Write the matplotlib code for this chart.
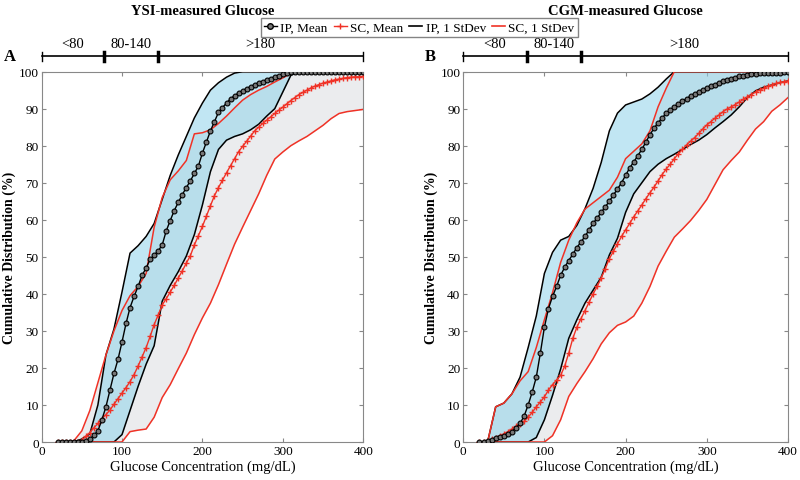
import numpy as np
import matplotlib
matplotlib.use("Agg")
import matplotlib.pyplot as plt
from matplotlib.lines import Line2D
import matplotlib.transforms as mtransforms

plt.rcParams['font.family'] = ['Liberation Serif', 'DejaVu Serif']
plt.rcParams['font.size'] = 10

# glucose grid (mg/dL): bands read every 10, means every 5
glucose_band = np.arange(20, 401, 10)
glucose_mean = np.arange(20, 401, 5)

# ---- panel A: YSI-measured glucose ----
ysi_ip_hi = [0, 0, 0, 0.8, 2.2, 10, 23.5, 30.5,
             40.5, 51, 53, 55.5, 59, 65.5, 72, 77.5,
             82.5, 87.5, 91.5, 95, 97, 98.5, 99.6, 100,
             100, 100, 100, 100, 100, 100, 100, 100,
             100, 100, 100, 100, 100, 100, 100]
ysi_ip_lo = [0, 0, 0, 0, 0, 0, 0, 0,
             2, 8.5, 15, 21, 26, 38, 42.3, 46,
             50.2, 56, 64, 73, 79, 81.5, 82.5, 83.2,
             84.3, 85.8, 88, 90, 94.5, 99, 100, 100,
             100, 100, 100, 100, 100, 100, 100]
ysi_sc_hi = [0, 0, 0.3, 3, 8.5, 16, 23.5, 30,
             35.5, 39.5, 42, 45.5, 58, 66, 70.8, 73.2,
             76, 83.2, 83.5, 84.3, 86, 88, 90.2, 92.3,
             93.8, 95, 96, 97.2, 98.3, 99.5, 100, 100,
             100, 100, 100, 100, 100, 100, 100]
ysi_sc_lo = [0, 0, 0, 0, 0, 0, 0, 0,
             0, 2.8, 3.2, 3.5, 6.7, 12, 15.5, 19.8,
             24, 29, 33.5, 37.5, 42.5, 48, 53.4, 58,
             62.5, 67, 72, 76.4, 78.3, 80, 81.3, 82.5,
             84, 85.5, 87.3, 88.7, 89.2, 89.5, 89.8]
ysi_ip_mean = [0, 0, 0, 0, 0, 0, 0.1, 0.4,
               0.8, 1.8, 3, 6, 9.5, 14, 18.5, 22.3,
               27, 32, 36.3, 39.3, 42, 45, 47, 49.3,
               50.4, 51.6, 53.2, 57, 59.8, 62.5, 64.7, 66.8,
               68.7, 70.5, 72.5, 74.5, 78, 81, 84, 86.5,
               89, 90.3, 91.5, 92.7, 93.5, 94.2, 94.8, 95.4,
               95.9, 96.4, 96.9, 97.3, 97.7, 98.1, 98.5, 98.9,
               99.3, 99.6, 99.9, 100, 100, 100, 100, 100,
               100, 100, 100, 100, 100, 100, 100, 100,
               100, 100, 100, 100, 100]
ysi_sc_mean = [0, 0, 0, 0, 0, 0, 0.5, 1.5,
               2.5, 3.8, 5, 6.2, 7.4, 8.6, 10.2, 11.7,
               13.2, 14.7, 16.3, 18.2, 20.5, 23, 25.5, 28.5,
               31.7, 34.3, 37, 38.7, 40.5, 42.3, 44.3, 46.2,
               48.3, 50.3, 53.2, 55.7, 58.2, 61, 63.8, 66.5,
               68.7, 70.7, 72.7, 74.6, 76.5, 78.4, 79.8, 81.2,
               82.6, 84, 85, 86, 86.9, 87.8, 88.7, 89.6,
               90.4, 91.3, 92.2, 93, 93.8, 94.4, 95, 95.6,
               96.1, 96.5, 96.9, 97.2, 97.5, 97.8, 98, 98.2,
               98.4, 98.5, 98.6, 98.6, 98.7]

# ---- panel B: CGM-measured glucose ----
cgm_ip_hi = [0, 0, 9.5, 10.5, 13, 17.5, 25.5, 34,
             45.5, 51.2, 54.5, 55.5, 58.5, 63, 68.5, 75.5,
             84, 88.8, 91, 91.8, 92.6, 94, 95.8, 98,
             100, 100, 100, 100, 100, 100, 100, 100,
             100, 100, 100, 100, 100, 100, 100]
cgm_ip_lo = [0, 0, 0, 0, 0, 0, 0, 1.2,
             6, 12.6, 19.7, 28, 33, 37.5, 41, 44.5,
             50.5, 55, 62, 67, 70, 73, 75, 76.5,
             77.7, 79, 80.3, 81.5, 83, 84.8, 86.5, 88.3,
             90.5, 93, 94.8, 95.8, 96.4, 97, 97.5]
cgm_sc_hi = [0, 0, 9.5, 10.5, 13, 16.5, 19, 25.5,
             33, 40.3, 48.5, 54.5, 59.2, 62.9, 64.6, 66.3,
             68, 71.5, 76.5, 78.5, 80.5, 84, 90.5, 95.5,
             100, 100, 100, 100, 100, 100, 100, 100,
             100, 100, 100, 100, 100, 100, 100]
cgm_sc_lo = [0, 0, 0, 0, 0, 0, 0, 0,
             0, 1.7, 6, 12.3, 15.8, 19, 22.5, 26.5,
             29.5, 31.5, 32.4, 34, 37.5, 42, 47.5, 51.5,
             55.3, 57.5, 59.8, 62.5, 65.5, 69.5, 73.5, 76,
             78.3, 81.5, 84.5, 86.5, 89.3, 91, 93]
cgm_ip_mean = [0, 0, 0.3, 0.6, 1, 1.3, 1.7, 2.2,
               2.8, 3.8, 5, 7, 10, 13.5, 17.5, 24,
               31, 36, 39.3, 42, 45, 47.2, 49, 50.7,
               52.5, 54, 55.5, 57.3, 59, 60.5, 62, 63.5,
               65, 66.7, 68.3, 70, 72, 74, 75.6, 77.3,
               79, 81, 83, 84.7, 86.2, 87.5, 88.7, 89.6,
               90.5, 91.3, 92, 92.7, 93.4, 94, 94.5, 95,
               95.5, 96, 96.5, 97, 97.4, 97.8, 98.1, 98.4,
               98.7, 98.9, 99.1, 99.3, 99.4, 99.5, 99.6, 99.6,
               99.7, 99.7, 99.7, 99.8, 99.8]
cgm_sc_mean = [0, 0, 0.3, 0.7, 1.2, 1.7, 2.2, 2.8,
               3.5, 4.2, 4.9, 5.6, 6.7, 8, 9.5, 10.8,
               12.2, 14, 15.5, 16.7, 18, 20.5, 24, 28,
               31, 33.3, 35.5, 37.7, 40, 42, 44.3, 46.8,
               49.5, 51.5, 53.5, 55.5, 57.3, 59, 60.8, 62.4,
               64, 65.7, 67.3, 68.8, 70.5, 72.2, 73.7, 75,
               76.5, 77.8, 79, 80.2, 81.2, 82.2, 83.3, 84.5,
               85.6, 86.5, 87.4, 88.3, 89.2, 89.9, 90.5, 91.1,
               91.8, 92.5, 93.2, 93.8, 94.5, 95, 95.5, 96,
               96.4, 96.8, 97.1, 97.3, 97.5]

# glycemic ranges drawn above each panel
range_edges = [0, 78, 145, 400]
range_labels = ["<80", "80-140", ">180"]

titles = ["YSI-measured Glucose", "CGM-measured Glucose"]
letters = ["A", "B"]

RED = "#f03226"
IP_FILL = "#8fd3ea"
SC_FILL = "#ebecee"

fig = plt.figure(figsize=(8, 4.81), dpi=100)
ax_a = fig.add_axes([0.052, 0.079, 0.402, 0.770])
ax_b = fig.add_axes([0.579, 0.079, 0.406, 0.770])

panels = [
    (ax_a, ysi_ip_hi, ysi_ip_lo, ysi_sc_hi, ysi_sc_lo, ysi_ip_mean, ysi_sc_mean),
    (ax_b, cgm_ip_hi, cgm_ip_lo, cgm_sc_hi, cgm_sc_lo, cgm_ip_mean, cgm_sc_mean),
]

for i, (ax, ip_hi, ip_lo, sc_hi, sc_lo, ip_mean, sc_mean) in enumerate(panels):
    ax.fill_between(glucose_band, sc_lo, sc_hi, color=SC_FILL, lw=0, zorder=1)
    ax.fill_between(glucose_band, ip_lo, ip_hi, color=IP_FILL, alpha=0.55, lw=0, zorder=2)
    ax.plot(glucose_band, ip_hi, color="black", lw=1.1, zorder=3)
    ax.plot(glucose_band, ip_lo, color="black", lw=1.1, zorder=3)
    ax.plot(glucose_band, sc_hi, color=RED, lw=1.1, zorder=4)
    ax.plot(glucose_band, sc_lo, color=RED, lw=1.1, zorder=4)
    ax.plot(glucose_mean, ip_mean, color="black", lw=1, marker="o", ms=3.5,
            mfc="#777777", mec="black", mew=0.8, zorder=6)
    ax.plot(glucose_mean, sc_mean, color=RED, lw=1, marker="+", ms=4.5,
            mew=1, zorder=5)

    ax.set_xlim(0, 400)
    ax.set_ylim(0, 100)
    ax.set_xticks([0, 100, 200, 300, 400])
    ax.set_yticks(np.arange(0, 101, 10))
    ax.tick_params(direction="in", top=True, right=True, length=3, pad=2,
                   color="#888888", labelsize=9.5)
    for s in ax.spines.values():
        s.set_color("#888888")
    ax.set_xlabel("Glucose Concentration (mg/dL)", fontsize=10.5, labelpad=2)
    ax.set_ylabel("Cumulative Distribution (%)", fontsize=10, fontweight="bold", labelpad=2)

    # range bracket above the axes
    trans = mtransforms.blended_transform_factory(ax.transData, ax.transAxes)
    yb = 1.042
    ax.plot([0, 400], [yb, yb], color="black", lw=1.2, transform=trans, clip_on=False)
    for k, e in enumerate(range_edges):
        lw = 1.0 if k in (0, len(range_edges) - 1) else 2.5
        ax.plot([e, e], [yb - 0.012, yb + 0.012], color="black", lw=lw,
                transform=trans, clip_on=False)
    for k, lab in enumerate(range_labels):
        xc = (range_edges[k] + range_edges[k + 1]) / 2
        ax.text(xc, 1.076, lab, transform=trans, ha="center", va="center", fontsize=10.5)

    ax.text(0.5, 1.165, titles[i], transform=ax.transAxes, ha="center", va="center",
            fontsize=10.5, fontweight="bold")
    ax.text(-0.1, 1.042, letters[i], transform=ax.transAxes, ha="center", va="center",
            fontsize=12, fontweight="bold")

handles = [
    Line2D([], [], color="black", lw=1, marker="o", ms=4, mfc="#777777", mec="black"),
    Line2D([], [], color=RED, lw=1, marker="+", ms=5),
    Line2D([], [], color="black", lw=1.2),
    Line2D([], [], color=RED, lw=1.2),
]
fig.legend(handles, ["IP, Mean", "SC, Mean", "IP, 1 StDev", "SC, 1 StDev"],
           loc="center", bbox_to_anchor=(0.524, 0.94), ncol=4, fontsize=9.5,
           frameon=True, fancybox=False, edgecolor="#666666", handlelength=1.0,
           handletextpad=0.25, columnspacing=0.45, borderpad=0.25, borderaxespad=0)

fig.savefig("out.png", dpi=100)
